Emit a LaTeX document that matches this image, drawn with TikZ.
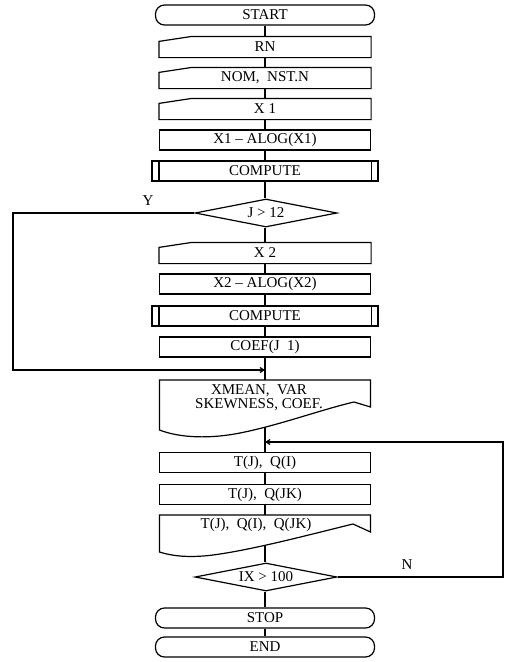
\documentclass[tikz,border=0pt]{standalone}
\usepackage{fontspec}
\setmainfont{Liberation Serif}
\usetikzlibrary{shapes.geometric,arrows.meta}
\newcommand\mioshape[1]{\draw (#1.south west) -- ([yshift=-5pt]#1.north west) -- ([xshift=33pt]#1.north west) -- (#1.north east) -- (#1.south east) -- cycle;}
\newcommand\prebars[1]{\draw ([xshift=7.5pt]#1.north west) -- ([xshift=7.5pt]#1.south west);
  \draw ([xshift=-7.5pt]#1.north east) -- ([xshift=-7.5pt]#1.south east);}
\begin{document}
\begin{tikzpicture}[x=1pt,y=-1pt, line width=1.2pt,
  txt/.style={font=\fontsize{15}{13.5}\selectfont, inner sep=0pt},
  box/.style={txt, minimum width=211pt, minimum height=20pt},
  proc/.style={box, draw},
  term/.style={box, draw, rounded corners=9pt, minimum width=219pt},
  pre/.style={box, draw, minimum width=226pt},
  dec/.style={txt, draw, diamond, aspect=5, minimum width=142pt, minimum height=28pt},
  lbl/.style={txt},
  arr/.style={-{Straight Barb[length=4pt,width=5pt]}},
]
\useasboundingbox (0,0) rectangle (507,662);
\node[term] (start) at (265,15) {START};
\node[box] (rn) at (265,47) {RN}; \mioshape{rn}
\node[box] (nom) at (265,78) {NOM,\ \ NST.N}; \mioshape{nom}
\node[box] (x1) at (265,109) {X 1}; \mioshape{x1}
\node[proc] (al1) at (265,140) {X1 -- ALOG(X1)};
\node[pre] (c1) at (265,171) {COMPUTE}; \prebars{c1}
\node[dec] (d1) at (266,213) {J > 12};
\node[box] (x2) at (265,253) {X 2}; \mioshape{x2}
\node[proc] (al2) at (265,284) {X2 -- ALOG(X2)};
\node[pre] (c2) at (265,316) {COMPUTE}; \prebars{c2}
\node[proc] (coef) at (265,347) {COEF(J\ \ 1)};
\coordinate (j1) at (265,370);
% document 1
\coordinate (doc1t) at (265,380);
\coordinate (doc1b) at (265,427.3);
\draw (159.5,430) -- (159.5,380) -- (370.5,380) -- (370.5,407) -- (354,402)
  .. controls (320,410) and (280,425) .. (240,433)
  .. controls (210,439) and (180,438) .. (159.5,430) -- cycle;
\node[txt, align=center] (doc1txt) at (259,397.5) {XMEAN,\ \ VAR\\SKEWNESS,\ COEF.};
\coordinate (j2) at (265,442);
\node[proc] (tq1) at (265,462.5) {T(J),\ \ Q(I)};
\node[proc] (tq2) at (265,494.5) {T(J),\ \ Q(JK)};
% document 2
\coordinate (doc2t) at (265,515);
\coordinate (doc2b) at (265,545.3);
\draw (159.5,552) -- (159.5,515) -- (370.5,515) -- (370.5,532) -- (353,524)
  .. controls (320,532) and (260,548) .. (220,554)
  .. controls (195,558) and (175,557) .. (159.5,552) -- cycle;
\node[txt] (doc2txt) at (256,525) {T(J),\ \ Q(I),\ \ Q(JK)};
\node[dec] (d2) at (266,577) {IX > 100};
\node[term] (stop) at (265,618) {STOP};
\node[term] (end) at (265,647) {END};
% connectors
\draw (start) -- (rn);
\draw (rn) -- (nom);
\draw (nom) -- (x1);
\draw (x1) -- (al1);
\draw (al1) -- (c1);
\draw (c1) -- (c1 |- d1.north);
\draw (d1.south -| x2) -- (x2);
\draw (x2) -- (al2);
\draw (al2) -- (c2);
\draw (c2) -- (coef);
\draw (coef) -- (doc1t);
\draw (doc1b) -- (tq1);
\draw (tq1) -- (tq2);
\draw (tq2) -- (doc2t);
\draw (doc2b) -- (doc2b |- d2.north);
\draw (d2.south -| stop) -- (stop);
\draw (stop) -- (end);
% loops
\coordinate (yl) at (13,370);
\draw[arr] (d1.west) -| (yl) -- (j1);
\coordinate (nr) at (503,442);
\draw[arr] (d2.east) -| (nr) -- (j2);
\node[lbl] (ylab) at (148,201) {Y};
\node[lbl] (nlab) at (407,565) {N};
\end{tikzpicture}
\end{document}
